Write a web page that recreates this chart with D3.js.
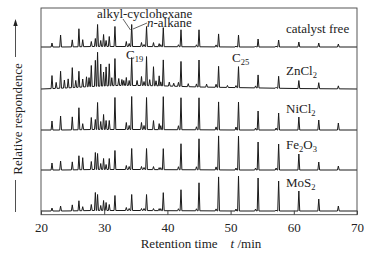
<!DOCTYPE html>
<html>
<head>
<meta charset="utf-8">
<script src="https://cdn.jsdelivr.net/npm/d3@7"></script>
<style>
  body { margin: 0; background: #fff; }
  svg text { font-family: "Liberation Serif", "DejaVu Serif", "Times New Roman", serif; fill: #222; }
</style>
</head>
<body>
<svg width="368" height="254" font-family='"Liberation Serif", "DejaVu Serif", serif'></svg>
<script>
// retention time (min) of the resolved peaks
const peakTimes = [21.74, 23.1, 24.95, 26.0, 26.6, 27.96, 28.6, 28.95, 29.45, 29.9, 30.3, 30.8, 31.7, 33.5, 34.35, 35.9, 36.7, 37.8, 38.7, 39.35, 42.15, 45.0, 48.1, 51.25, 54.35, 57.6, 60.8, 63.95, 67.05];
// peak heights per sample (same order as peakTimes)
const catalystFree = [4, 12, 7, 18, 7, 5, 8, 22, 6, 12, 6, 10, 20, 5, 22, 4, 20, 4, 3, 19, 17, 17, 13, 12, 8, 7, 5, 4, 3];
const znCl2 = [13, 17, 20, 16, 8, 21, 26, 34, 22, 14, 19, 22, 27, 8, 28, 9, 29, 19, 10, 26, 25, 27, 21, 21, 13, 12, 8, 6, 3];
const niCl2 = [9, 14, 13, 22, 6, 12, 10, 27, 8, 15, 9, 9, 32, 7, 33, 7, 32, 9, 6, 33, 32, 32, 28, 28, 19, 17, 13, 10, 7];
const fe2O3 = [7, 9, 8, 14, 12, 8, 17, 16, 6, 11, 5, 11, 19, 4, 21, 3, 21, 3, 2, 21, 26, 31, 34, 34, 28, 26, 16, 8, 4];
const moS2 = [3, 5, 6, 10, 4, 6, 18, 16, 5, 10, 8, 6, 15, 3, 16, 2, 16, 2, 2, 18, 21, 28, 34, 35, 33, 30, 20, 12, 5];

// small satellite peaks just before the n-alkanes
const minorTimes = [33.95, 36.3, 38.95, 41.75, 44.6, 47.7, 50.85, 53.95, 57.2];
const minorCatalystFree = [3, 2, 2, 2, 2, 2, 1, 1, 1];
const minorZnCl2 = [5, 4, 4, 4, 3, 3, 2, 2, 1];
const minorNiCl2 = [4, 4, 4, 4, 3, 3, 3, 2, 2];
const minorFe2O3 = [3, 2, 2, 3, 3, 3, 2, 2, 2];
const minorMoS2 = [2, 2, 2, 2, 2, 2, 2, 2, 1];

// extra small peaks of the noisy ZnCl2 trace
const znNoiseTimes = [22.4, 23.7, 24.3, 25.5, 27.2, 27.6, 31.2, 32.3, 32.8, 33.1, 35.2, 37.2, 38.2, 40.3, 41.0, 43.3, 46.2, 49.5];
const znNoiseHeights = [6, 8, 9, 7, 10, 9, 8, 7, 6, 5, 5, 6, 5, 4, 3, 3, 3, 2];

// baseline hump
const baseTimes = [20, 24, 28, 32, 36, 40, 45, 50, 60, 70];
const znBase = [0, 1, 2.5, 3.5, 3.5, 3, 2, 1.5, 0.5, 0];
const flatBase = [0, 0, 0.5, 0.5, 0.5, 0.3, 0.2, 0, 0, 0];

const xTicks = [20, 30, 40, 50, 60, 70];

const series = [
  {name: 'MoS2', main: 'MoS', sub: '2', tail: '', h: moS2, minor: minorMoS2, base: flatBase},
  {name: 'Fe2O3', main: 'Fe', sub: '2', tail: 'O', sub2: '3', h: fe2O3, minor: minorFe2O3, base: flatBase},
  {name: 'NiCl2', main: 'NiCl', sub: '2', tail: '', h: niCl2, minor: minorNiCl2, base: flatBase},
  {name: 'ZnCl2', main: 'ZnCl', sub: '2', tail: '', h: znCl2, minor: minorZnCl2, base: znBase, noise: true},
  {name: 'catalyst free', main: 'catalyst free', sub: '', tail: '', h: catalystFree, minor: minorCatalystFree, base: flatBase}
];

const svg = d3.select('svg');
const margin = {top: 8, right: 11, bottom: 39.3, left: 41};
const width = +svg.attr('width');
const height = +svg.attr('height');
const innerWidth = width - margin.left - margin.right;
const innerHeight = height - margin.top - margin.bottom;
const fs = 13;

const g = svg.append('g').attr('transform', `translate(${margin.left},${margin.top})`);

const x = d3.scaleLinear().domain([20, 70]).range([0, innerWidth]);
const y = d3.scaleLinear().domain([-3.7, 203]).range([innerHeight, 0]);
const offsets = [0, 41, 81, 122, 164];
const labelY = [187.3, 149, 113.3, 75, 33];

const w = 0.14;
const line = d3.line().x(d => x(d[0])).y(d => y(d[1]));

series.forEach((s, i) => {
  const base = d3.scaleLinear().domain(baseTimes).range(s.base);
  let peaks = peakTimes.map((t, j) => [t, s.h[j]]);
  peaks = peaks.concat(minorTimes.map((t, j) => [t, s.minor[j]]));
  if (s.noise) peaks = peaks.concat(znNoiseTimes.map((t, j) => [t, znNoiseHeights[j]]));
  peaks.sort((a, b) => a[0] - b[0]);
  const pts = [[20, base(20)]];
  peaks.forEach(p => {
    pts.push([p[0] - w, base(p[0] - w)]);
    pts.push([p[0], base(p[0]) + p[1]]);
    pts.push([p[0] + w, base(p[0] + w)]);
  });
  pts.push([70, base(70)]);
  g.append('path')
    .datum(pts.map(d => [d[0], d[1] + offsets[i]]))
    .attr('fill', 'none')
    .attr('stroke', '#1a1a1a')
    .attr('stroke-width', 1)
    .attr('d', line);

  const t = svg.append('text')
    .attr('x', 286)
    .attr('y', labelY[i])
    .attr('font-size', fs);
  t.append('tspan').text(s.main);
  if (s.sub) t.append('tspan').attr('font-size', 8.5).attr('dy', 3).text(s.sub);
  if (s.tail) t.append('tspan').attr('font-size', fs).attr('dy', -3).text(s.tail);
  if (s.sub2) t.append('tspan').attr('font-size', 8.5).attr('dy', 3).text(s.sub2);
});

// frame
g.append('rect')
  .attr('width', innerWidth)
  .attr('height', innerHeight)
  .attr('fill', 'none')
  .attr('stroke', '#444')
  .attr('stroke-width', 0.9);

const xAxis = d3.axisBottom(x)
  .tickValues(xTicks)
  .tickSize(-4)
  .tickPadding(8);
const xAxisG = g.append('g')
  .attr('transform', `translate(0,${innerHeight})`)
  .call(xAxis)
  .attr('font-family', null)
  .attr('font-size', null);
xAxisG.select('.domain').remove();
xAxisG.selectAll('line').attr('stroke', '#444');
xAxisG.selectAll('text')
  .attr('font-size', fs)
  .attr('fill', '#222');

// x axis title
const xt = svg.append('text')
  .attr('x', 201)
  .attr('y', 248)
  .attr('text-anchor', 'middle')
  .attr('font-size', fs);
xt.append('tspan').text('Retention time\u00a0\u00a0\u00a0\u00a0');
xt.append('tspan').attr('font-style', 'italic').text('t');
xt.append('tspan').text(' /min');

// y axis title with arrow
svg.append('text')
  .attr('transform', 'translate(21.5,119) rotate(-90)')
  .attr('text-anchor', 'middle')
  .attr('font-size', fs)
  .text('Relative respondence');
svg.append('line').attr('x1', 15.5).attr('x2', 15.5).attr('y1', 212).attr('y2', 180)
  .attr('stroke', '#222').attr('stroke-width', 0.8);
svg.append('line').attr('x1', 15.5).attr('x2', 15.5).attr('y1', 57).attr('y2', 24)
  .attr('stroke', '#222').attr('stroke-width', 0.8);
svg.append('path').attr('d', 'M15.5,19 L13.3,26 L17.7,26 Z').attr('fill', '#222');

// peak annotations
svg.append('text').attr('x', 97).attr('y', 17.5).attr('font-size', fs).text('alkyl-cyclohexane');
const na = svg.append('text').attr('x', 147).attr('y', 26.5).attr('font-size', fs);
na.append('tspan').attr('font-style', 'italic').text('n');
na.append('tspan').text('-alkane');
svg.append('line').attr('x1', 123).attr('y1', 19).attr('x2', 130.5).attr('y2', 30)
  .attr('stroke', '#222').attr('stroke-width', 0.7);
svg.append('line').attr('x1', 147).attr('y1', 23).attr('x2', 133).attr('y2', 29)
  .attr('stroke', '#222').attr('stroke-width', 0.7);

const c19 = svg.append('text').attr('x', 126).attr('y', 58.5).attr('font-size', fs);
c19.append('tspan').text('C');
c19.append('tspan').attr('font-size', 8.5).attr('dy', 3).text('19');
const c25 = svg.append('text').attr('x', 232).attr('y', 62).attr('font-size', fs);
c25.append('tspan').text('C');
c25.append('tspan').attr('font-size', 8.5).attr('dy', 3).text('25');
</script>
</body>
</html>
